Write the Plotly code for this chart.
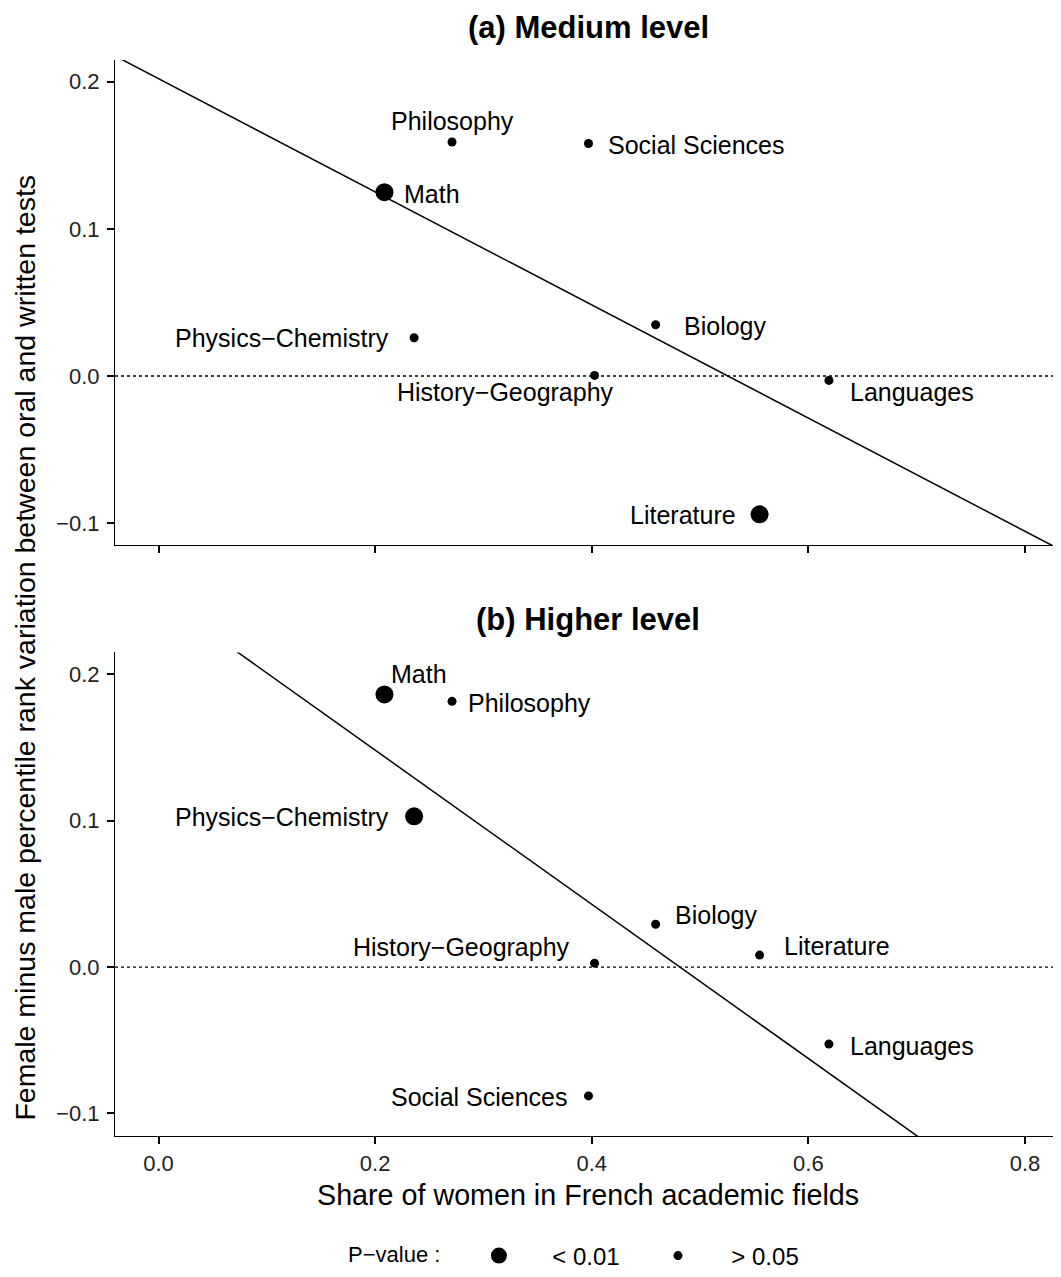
import numpy as np
import plotly.graph_objects as go

# ---------------- data ----------------
fields = ["Math", "Physics−Chemistry", "Philosophy", "Social Sciences",
          "History−Geography", "Biology", "Literature", "Languages"]
share_women = [0.2086, 0.236, 0.271, 0.397, 0.4026, 0.459, 0.555, 0.619]
gap_medium = [0.1249, 0.026, 0.159, 0.158, 0.0004, 0.0348, -0.094, -0.003]
gap_higher = [0.1863, 0.103, 0.1816, -0.088, 0.0027, 0.0293, 0.0082, -0.0526]
pval_medium = ["< 0.01", "> 0.05", "> 0.05", "> 0.05", "> 0.05", "> 0.05", "< 0.01", "> 0.05"]
pval_higher = ["< 0.01", "< 0.01", "> 0.05", "> 0.05", "> 0.05", "> 0.05", "> 0.05", "> 0.05"]
pval_groups = ["< 0.01", "> 0.05"]
panel_titles = ["(a) Medium level", "(b) Higher level"]
x_ticks = [0.0, 0.2, 0.4, 0.6, 0.8]
x_tick_labels = ["0.0", "0.2", "0.4", "0.6", "0.8"]
y_ticks = [-0.1, 0.0, 0.1, 0.2]
y_tick_labels = ["−0.1", "0.0", "0.1", "0.2"]
x_title = "Share of women in French academic fields"
y_title = "Female minus male percentile rank variation between oral and written tests"
legend_title = "P−value :"

# ---------------- style ----------------
FONT = "Liberation Sans, Arial, Helvetica, sans-serif"
NB = "\u00a0"
X_RANGE = [-0.0402, 0.8333]
Y_RANGE_TOP = [-0.1150, 0.2147]
Y_RANGE_BOT = [-0.1154, 0.2150]
marker_size = {"< 0.01": 18, "> 0.05": 9}
# label placement per panel: (xanchor, xshift px, yshift px)
label_pos_medium = {
    "Math": ("left", 18, -2),
    "Physics−Chemistry": ("right", -23, 0),
    "Philosophy": ("center", 0, 21),
    "Social Sciences": ("left", 18, -2),
    "History−Geography": ("right", 21, -17),
    "Biology": ("left", 26, -1),
    "Literature": ("right", -22, -1),
    "Languages": ("left", 19, -12),
}
label_pos_higher = {
    "Math": ("center", 35, 20),
    "Physics−Chemistry": ("right", -23, -1),
    "Philosophy": ("left", 14, -2),
    "Social Sciences": ("right", -19, -1),
    "History−Geography": ("right", -23, 16),
    "Biology": ("left", 17, 9),
    "Literature": ("left", 22, 9),
    "Languages": ("left", 19, -2),
}

fig = go.Figure()

panels = [
    (gap_medium, pval_medium, label_pos_medium, "x", "y", True),
    (gap_higher, pval_higher, label_pos_higher, "x2", "y2", False),
]

annotations = []
shapes = []
for gaps, pvals, lpos, xa, ya, show_leg in panels:
    # fitted regression line (OLS on the panel's points)
    slope, intercept = np.polyfit(share_women, gaps, 1)
    xs = np.array(X_RANGE)
    fig.add_trace(go.Scatter(x=xs, y=slope * xs + intercept, mode="lines",
                             line=dict(color="black", width=1.5),
                             xaxis=xa, yaxis=ya, showlegend=False, hoverinfo="skip"))
    # points by p-value group
    for grp in pval_groups:
        xx = [s for s, p in zip(share_women, pvals) if p == grp]
        yy = [g for g, p in zip(gaps, pvals) if p == grp]
        fig.add_trace(go.Scatter(
            x=xx, y=yy, mode="markers", name=NB * 5 + grp + NB * 5, legendgroup=grp,
            showlegend=show_leg,
            marker=dict(color="black", size=marker_size[grp], line=dict(width=0)),
            xaxis=xa, yaxis=ya, cliponaxis=False))
    # labels
    for f, s, g in zip(fields, share_women, gaps):
        anc, dx, dy = lpos[f]
        annotations.append(dict(x=s, y=g, xref=xa, yref=ya, text=f, showarrow=False,
                                xanchor=anc, yanchor="middle", xshift=dx, yshift=dy,
                                font=dict(size=25, color="black", family=FONT)))
    # dotted zero line
    shapes.append(dict(type="line", xref=xa + " domain", x0=0, x1=1, yref=ya, y0=0, y1=0,
                       line=dict(color="black", width=1.3, dash="dot")))

# panel titles
annotations.append(dict(x=0.5, y=1.0306, xref="paper", yref="paper", text="<b>" + panel_titles[0] + "</b>",
                        showarrow=False, xanchor="center", yanchor="middle",
                        font=dict(size=31, color="black", family=FONT)))
annotations.append(dict(x=0.5, y=0.480, xref="paper", yref="paper", text="<b>" + panel_titles[1] + "</b>",
                        showarrow=False, xanchor="center", yanchor="middle",
                        font=dict(size=31, color="black", family=FONT)))
# axis titles
annotations.append(dict(x=0.5, y=-0.0548, xref="paper", yref="paper", text=x_title,
                        showarrow=False, xanchor="center", yanchor="middle",
                        font=dict(size=28.7, color="black", family=FONT)))
annotations.append(dict(x=-0.0955, y=0.4536, xref="paper", yref="paper", text=y_title,
                        showarrow=False, xanchor="center", yanchor="middle", textangle=-90,
                        font=dict(size=28.5, color="black", family=FONT)))

axis_common = dict(showline=True, linecolor="black", linewidth=1.2, ticks="outside",
                   ticklen=7, tickwidth=1.8, tickcolor="black", showgrid=False, zeroline=False,
                   tickfont=dict(size=22, color="#222222", family=FONT))

# the page body adds an 8px offset; margins compensate so the plot sits where the reference does
fig.update_layout(
    width=1061, height=1277,
    margin=dict(l=107, r=8, t=52, b=148),
    paper_bgcolor="white", plot_bgcolor="white",
    font=dict(family=FONT, color="black"),
    xaxis=dict(domain=[0, 1], anchor="y", range=X_RANGE, tickvals=x_ticks,
               showticklabels=False, **axis_common),
    yaxis=dict(domain=[0.549, 1], anchor="x", range=Y_RANGE_TOP, tickvals=y_ticks,
               ticktext=y_tick_labels, ticklabelstandoff=3, **axis_common),
    xaxis2=dict(domain=[0, 1], anchor="y2", range=X_RANGE, tickvals=x_ticks,
                ticktext=x_tick_labels, **axis_common),
    yaxis2=dict(domain=[0, 0.4494], anchor="x2", range=Y_RANGE_BOT, tickvals=y_ticks,
                ticktext=y_tick_labels, ticklabelstandoff=3, **axis_common),
    annotations=annotations,
    shapes=shapes,
    showlegend=True,
    legend=dict(orientation="h", x=0.2442, xanchor="left", y=-0.1105, yanchor="middle",
                title=dict(text=legend_title + NB * 5, side="left",
                           font=dict(size=22, color="black", family=FONT)),
                font=dict(size=24, color="black", family=FONT),
                itemsizing="trace", bgcolor="rgba(0,0,0,0)"),
)

fig.write_html("out.html")
